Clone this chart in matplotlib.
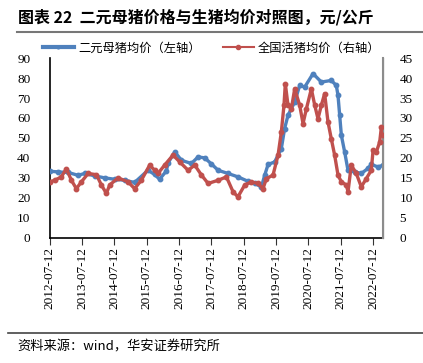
import matplotlib
matplotlib.use("Agg")
import matplotlib.pyplot as plt
from matplotlib.lines import Line2D
import pandas as pd

plt.rcParams['font.family'] = ['Noto Sans CJK SC', 'DejaVu Sans']

# 二元母猪均价（左轴）
sow_dates = ["2012-07-12", "2012-10-15", "2013-02-05", "2013-05-28", "2013-08-12", "2013-12-02",
             "2014-03-25", "2014-07-16", "2014-11-06", "2015-02-26", "2015-07-27", "2015-10-10",
             "2015-12-05", "2016-02-20", "2016-03-10", "2016-05-25", "2016-08-08", "2016-11-28",
             "2017-02-12", "2017-04-28", "2017-07-12", "2017-09-26", "2018-01-16", "2018-05-08",
             "2018-08-29", "2018-11-13", "2019-01-28", "2019-03-06", "2019-04-13", "2019-06-27",
             "2019-09-10", "2019-10-17", "2019-11-24", "2020-02-08", "2020-04-04", "2020-05-31",
             "2020-09-02", "2020-12-05", "2021-03-27", "2021-05-23", "2021-06-11", "2021-06-30",
             "2021-07-19", "2021-08-25", "2021-10-02", "2021-12-16", "2022-03-01", "2022-05-15",
             "2022-06-22", "2022-09-05", "2022-11-01"]
sow_price = [33.3, 33.0, 32.7, 31.3, 32.2, 31.0,
             30.0, 29.3, 28.8, 27.7, 33.8, 31.7,
             29.3, 33.5, 37.5, 43.0, 38.8, 37.2,
             40.5, 40.0, 37.0, 33.8, 32.2, 30.5,
             28.3, 27.2, 25.5, 31.3, 36.7, 38.0,
             44.7, 54.7, 61.3, 68.0, 76.3, 75.5,
             82.2, 78.0, 78.8, 76.3, 71.3, 61.3,
             51.3, 43.0, 33.8, 33.0, 32.2, 34.7,
             36.7, 35.5, 36.3]

# 全国活猪均价（右轴）
hog_dates = ["2012-07-12", "2012-09-07", "2012-11-21", "2013-01-16", "2013-03-14", "2013-05-09",
             "2013-07-05", "2013-09-19", "2013-12-22", "2014-02-16", "2014-04-13", "2014-05-20",
             "2014-08-23", "2014-12-14", "2015-02-26", "2015-05-13", "2015-08-15", "2015-10-10",
             "2015-11-17", "2016-01-31", "2016-05-05", "2016-07-19", "2016-10-22", "2017-01-05",
             "2017-03-22", "2017-06-05", "2017-09-26", "2017-12-29", "2018-03-14", "2018-05-08",
             "2018-07-23", "2018-10-06", "2018-12-20", "2019-02-15", "2019-03-25", "2019-06-08",
             "2019-08-04", "2019-09-10", "2019-10-10", "2019-10-25", "2019-11-24", "2020-01-01",
             "2020-02-08", "2020-04-04", "2020-05-12", "2020-06-19", "2020-08-14", "2020-09-21",
             "2020-10-28", "2020-12-05", "2021-01-11", "2021-02-18", "2021-03-27", "2021-05-04",
             "2021-06-11", "2021-07-19", "2021-09-14", "2021-10-02", "2021-11-08", "2022-01-04",
             "2022-03-01", "2022-04-26", "2022-06-22", "2022-07-12", "2022-08-18", "2022-09-25",
             "2022-10-14", "2022-11-01"]
hog_price = [14.0, 14.4, 15.25, 17.3, 14.4, 12.3,
             14.0, 16.1, 15.8, 13.2, 11.1, 13.2,
             15.0, 14.0, 12.3, 14.4, 18.2, 16.9,
             16.1, 18.2, 20.7, 19.0, 16.9, 18.2,
             15.7, 13.6, 14.4, 15.25, 11.5, 10.25,
             13.2, 14.0, 13.6, 12.3, 14.8, 15.7,
             20.7, 26.5, 33.2, 38.6, 33.2, 32.3,
             37.3, 33.2, 28.6, 32.3, 37.3, 33.2,
             29.8, 33.2, 36.1, 29.0, 24.8, 20.7,
             15.7, 14.0, 13.2, 11.5, 18.2, 16.1,
             12.75, 14.8, 16.9, 21.9, 21.5, 24.0,
             27.75, 25.7]

tick_labels = ["2012-07-12", "2013-07-12", "2014-07-12", "2015-07-12", "2016-07-12", "2017-07-12",
               "2018-07-12", "2019-07-12", "2020-07-12", "2021-07-12", "2022-07-12"]

BLUE = "#4F81BD"
RED = "#C0504D"
serif = "Liberation Serif"

fig = plt.figure(figsize=(4.23, 3.63), dpi=100)
ax = fig.add_axes([0.1175, 0.345, 0.7879, 0.495])
ax2 = ax.twinx()

sd = pd.to_datetime(sow_dates)
hd = pd.to_datetime(hog_dates)

ax.plot(sd, sow_price, color=BLUE, lw=2.4, marker='o', ms=3.2, solid_capstyle='round',
        solid_joinstyle='round', zorder=3)
ax2.plot(hd, hog_price, color=RED, lw=2.4, marker='o', ms=3.2, solid_capstyle='round',
         solid_joinstyle='round', zorder=3)

ax.set_ylim(0, 90)
ax.set_yticks(range(0, 91, 10))
ax2.set_ylim(0, 45)
ax2.set_yticks(range(0, 46, 5))
ax.set_xlim(pd.Timestamp("2012-07-12"), pd.Timestamp("2022-11-01"))

tks = pd.to_datetime(tick_labels)
ax.set_xticks(tks)
ax.set_xticklabels(tick_labels, rotation=90, fontsize=9.5, family=serif)
ax.tick_params(axis='x', direction='out', length=5, width=0.8, color='#333333', pad=2)
ax.tick_params(axis='y', length=0, pad=14, labelsize=9.5)
ax2.tick_params(axis='y', length=0, pad=12, labelsize=9.5)
for lab in ax.get_yticklabels() + ax2.get_yticklabels():
    lab.set_family(serif)

for a in (ax, ax2):
    a.spines['top'].set_visible(False)
ax.spines['left'].set_color('black')
ax.spines['bottom'].set_color('black')
ax.spines['left'].set_linewidth(1.2)
ax.spines['bottom'].set_linewidth(1.2)
ax2.spines['right'].set_color('#8C8C8C')
ax2.spines['right'].set_linewidth(1.5)
ax2.spines['left'].set_visible(False)
ax2.spines['bottom'].set_visible(False)

# legend
h1 = Line2D([], [], color=BLUE, lw=3, marker='o', ms=2)
h2 = Line2D([], [], color=RED, lw=1.5, marker='o', ms=3)
fig.legend([h1, h2], ["二元母猪均价（左轴）", "全国活猪均价（右轴）"], loc='center',
           bbox_to_anchor=(0.5, 0.868), ncol=2, frameon=False, fontsize=8.8,
           handlelength=2.6, handletextpad=0.3, columnspacing=1.8)

# title and separators
fig.text(0.043, 0.953, "图表 22  二元母猪价格与生猪均价对照图，元/公斤", fontsize=11.5,
         fontweight='bold', va='center', ha='left')
fig.add_artist(Line2D([0.04, 1.0], [0.913, 0.913], color='#777777', lw=1.5))
fig.add_artist(Line2D([0.02, 1.0], [0.083, 0.083], color='#444444', lw=1.2))
fig.text(0.04, 0.043, "资料来源：wind，华安证券研究所", fontsize=9.5, va='center', ha='left')

fig.savefig("out.png", dpi=100)
